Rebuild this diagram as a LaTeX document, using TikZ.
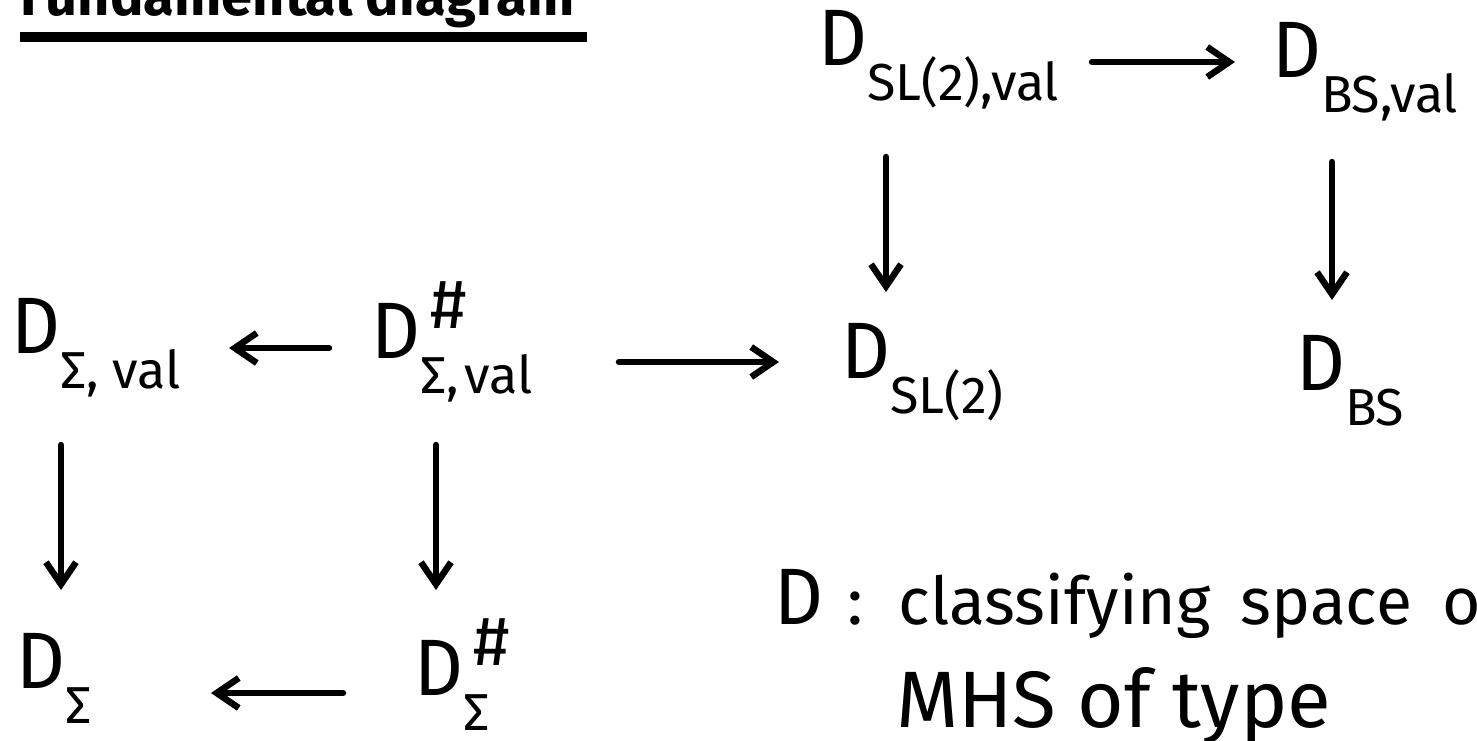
\documentclass[tikz,border=0pt]{standalone}
\usepackage{fontspec}
\setmainfont{Fira Sans}
\usepackage{graphicx}
\usetikzlibrary{arrows.meta,calc}
\newcommand\bigD{\scalebox{0.95}[1]{\fontsize{80}{80}\selectfont D}}
\newcommand\Dsb[1]{\bigD\raisebox{-35pt}{\fontsize{52}{52}\selectfont #1}}
\newcommand\Dsp[1]{\bigD\rlap{\kern10pt\raisebox{30pt}{\fontsize{70}{70}\selectfont\#}}\raisebox{-35pt}{\fontsize{52}{52}\selectfont #1}}
\begin{document}
\begin{tikzpicture}[x=1pt,y=-1pt,
  arr/.style={line width=6.5pt, line cap=round, -{Straight Barb[length=22pt,width=30pt]}},
  lab/.style={inner sep=0pt, anchor=base west}]
\useasboundingbox (0,0) rectangle (1477,740);
\node[inner sep=0pt, anchor=base east, font=\fontsize{56}{56}\selectfont\bfseries] (title) at (575,15) {Fundamental diagram};
\draw[line width=10pt] ($(title.base west)+(0,22)$) -- ($(title.base east)+(12,22)$);
\node[lab] (T1) at (818,65) {\Dsb{SL(2),val}};
\node[lab] (T2) at (1272,77) {\Dsb{BS,val}};
\node[lab] (M1) at (11,353) {\Dsb{Σ,\kern14pt val}};
\node[lab] (M2) at (371,358) {\Dsp{Σ,\kern6pt val}};
\node[lab] (M3) at (841,378) {\Dsb{SL(2)}};
\node[lab] (M4) at (1296,390) {\Dsb{BS}};
\node[lab] (B1) at (16,688) {\Dsb{Σ}};
\node[lab] (B2) at (414,695) {\Dsp{Σ}};
\node[lab] (N1) at (774,624) {\fontsize{66}{66}\selectfont\bigD\hspace{24pt}:\hspace{36pt}classifying\hspace{30pt}space\hspace{30pt}o};
\node[lab] (N2) at (896,727) {\fontsize{80}{80}\selectfont MHS of type};
\draw[arr] ($(T1.base west)+(274,-3)$) -- ($(T2.base west)+(-37,-15)$);
\draw[arr] ($(M2.base west)+(-42,-10)$) -- ($(M1.base west)+(218,-5)$);
\draw[arr] ($(M2.base west)+(248,4)$) -- ($(M3.base west)+(-62,-16)$);
\draw[arr] ($(B2.base west)+(-71,-2)$) -- ($(B1.base west)+(195,5)$);
\draw[arr] ($(T1.base west)+(68,92)$) -- ($(M3.base west)+(45,-86)$);
\draw[arr] ($(T2.base west)+(60,85)$) -- ($(M4.base west)+(36,-90)$);
\draw[arr] ($(M1.base west)+(50,92)$) -- ($(B1.base west)+(45,-98)$);
\draw[arr] ($(M2.base west)+(65,87)$) -- ($(B2.base west)+(22,-105)$);
\end{tikzpicture}
\end{document}
